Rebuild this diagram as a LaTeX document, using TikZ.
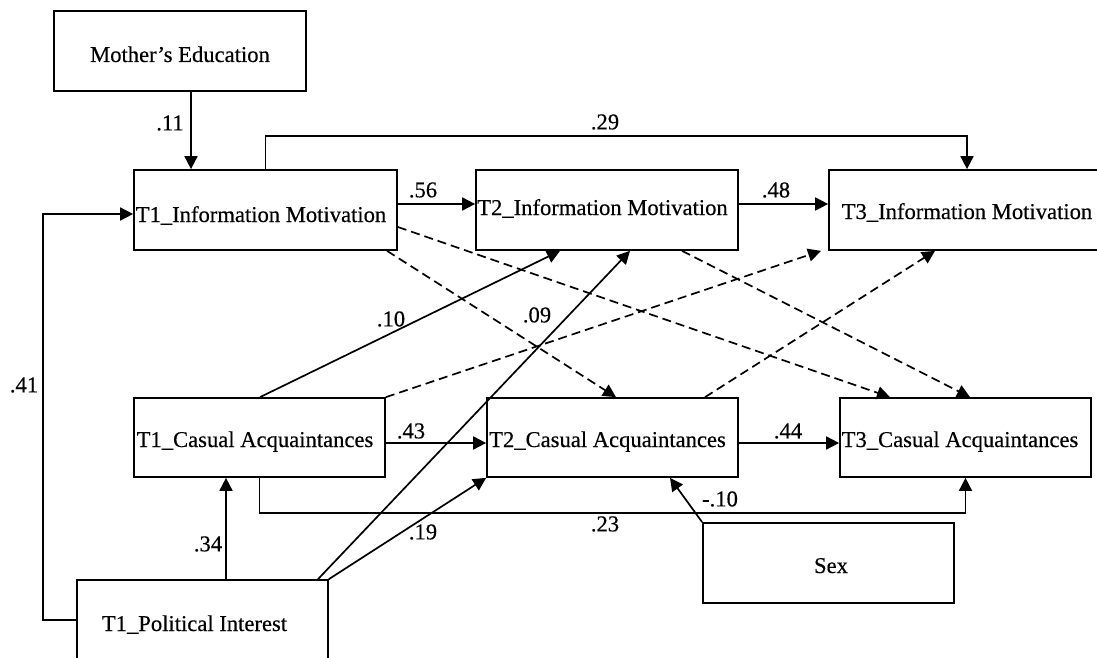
\documentclass[tikz,border=0pt]{standalone}
\usepackage{fontspec}
\setmainfont{Liberation Serif}[FakeBold=0.4]
\newfontfamily\labelfont{Liberation Serif}[FakeBold=0.4]
\usetikzlibrary{arrows.meta}
\begin{document}
\begin{tikzpicture}[x=0.5pt,y=-0.5pt,
  box/.style={draw, line width=0.85pt, inner sep=0pt, minimum height=40pt},
  txt/.style={inner sep=0pt, anchor=base, font=\labelfont\fontsize{11.3}{13}\selectfont},
  coef/.style={inner sep=0pt, font=\labelfont\fontsize{11.3}{13}\selectfont},
  link/.style={line width=0.85pt, -{Triangle[length=6.5pt,width=6.5pt]}},
  cross/.style={link, dash pattern=on 4.5pt off 2.5pt}]
\useasboundingbox (0,0) rectangle (1097,658);

% variables
\node[box, minimum width=126pt]   (moth) at (180,51)      {};
\node[box, minimum width=131.5pt] (im1)  at (265.5,210)   {};
\node[box, minimum width=131pt]   (im2)  at (607,210)     {};
\node[box, minimum width=138pt]   (im3)  at (967,210)     {};
\node[box, minimum width=125.5pt, minimum height=39.5pt] (ca1) at (259.5,437.5) {};
\node[box, minimum width=125.5pt, minimum height=39.5pt] (ca2) at (612.5,437.5) {};
\node[box, minimum width=125.5pt, minimum height=39.5pt] (ca3) at (965.5,437.5) {};
\node[box, minimum width=125.5pt] (sex)  at (828.5,563)   {};
\node[box, minimum width=125.5pt] (pi)   at (202.5,620)   {};

% variable names
\node[txt] (mothT) at (180,62)    {Mother’s Education};
\node[txt] (im1T)  at (261,222)   {T1\_Information Motivation};
\node[txt] (im2T)  at (602.5,215) {T2\_Information Motivation};
\node[txt] (im3T)  at (967,219)   {T3\_Information Motivation};
\node[txt] (ca1T)  at (255,447)   {T1\_Casual Acquaintances};
\node[txt] (ca2T)  at (607.5,447) {T2\_Casual Acquaintances};
\node[txt] (ca3T)  at (960,447)   {T3\_Casual Acquaintances};
\node[txt] (sexT)  at (831,573)   {Sex};
\node[txt] (piT)   at (194.5,631) {T1\_Political Interest};

% significant paths
\draw[link] (moth.south -| 191,0) -- (im1.north -| 191,0);
\draw[link] (im1.north) -- (im1.north |- 0,136) -| (im3.north);
\draw[link] (im1.east |- 0,204) -- (im2.west |- 0,204);
\draw[link] (im2.east |- 0,204) -- (im3.west |- 0,204);
\draw[link] (pi.west) -| (43,214) -- (im1.west |- 0,214);
\draw[link] (pi.north -| 226,0) -- (ca1.south -| 226,0);
\draw[link] (ca1.east |- 0,443) -- (ca2.west |- 0,443);
\draw[link] (ca2.east |- 0,443) -- (ca3.west |- 0,443);
\draw[link] (ca1.south) -- (ca1.south |- 0,513) -| (ca3.south);
\draw[link] (ca1.north -| 260,0) -- (im2.south -| 560,0);
\draw[link] (pi.north -| 318,0) -- (im2.south -| 630,0);
\draw[link] (pi.north east) -- (ca2.south west);
\draw[link] (sex.north west) -- (ca2.south -| 670,0);

% cross-lagged paths
\draw[cross] (im1.east |- 0,227) -- (ca3.north -| 890,0);
\draw[cross] (im1.south -| 387,0) -- (ca2.north -| 616,0);
\draw[cross] (ca1.north east) -- (im3.south -| 821,0);
\draw[cross] (ca2.north -| 705,0) -- (im3.south -| 935,0);
\draw[cross] (im2.south -| 682,0) -- (ca3.north -| 970,0);

% coefficients
\node[coef] (c11) at (170,123)  {.11};
\node[coef] (c29) at (605,122)  {.29};
\node[coef] (c56) at (423,190)  {.56};
\node[coef] (c48) at (776,190)  {.48};
\node[coef] (c41) at (24,385)   {.41};
\node[coef] (c10) at (391,319)  {.10};
\node[coef] (c09) at (537,315)  {.09};
\node[coef] (c43) at (411,431)  {.43};
\node[coef] (c44) at (788,431)  {.44};
\node[coef] (c34) at (208,544)  {.34};
\node[coef] (c19) at (423,532)  {.19};
\node[coef] (c23) at (605,524)  {.23};
\node[coef] (cm10) at (720,499) {-.10};
\end{tikzpicture}
\end{document}
